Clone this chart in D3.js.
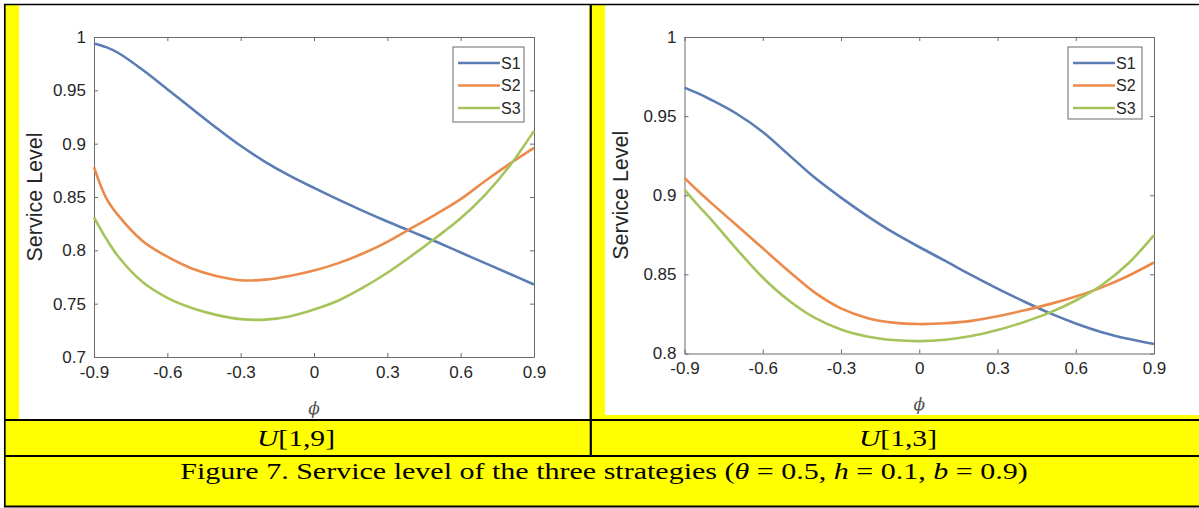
<!DOCTYPE html>
<html>
<head>
<meta charset="utf-8">
<script src="https://cdn.jsdelivr.net/npm/d3@7"></script>
<style>
  html, body { margin: 0; padding: 0; background: #fff; }
  svg { display: block; }
</style>
</head>
<body>
<div id="chart"></div>
<script>
// phi values sampled along the x axis (extra point near -0.9 where the curves bend hard)
const phi = [-0.9, -0.85, -0.8, -0.7, -0.6, -0.5, -0.4, -0.3, -0.2, -0.1, 0, 0.1, 0.2, 0.3, 0.4, 0.5, 0.6, 0.7, 0.8, 0.9];

// U[1,9] panel
const s1U19 = [0.994, 0.9905, 0.985, 0.969, 0.951, 0.933, 0.915, 0.898, 0.883, 0.870, 0.8585, 0.8475, 0.837, 0.827, 0.8175, 0.808, 0.798, 0.788, 0.778, 0.768];
const s2U19 = [0.878, 0.849, 0.8325, 0.8085, 0.794, 0.783, 0.776, 0.772, 0.7725, 0.776, 0.781, 0.788, 0.797, 0.808, 0.821, 0.834, 0.848, 0.865, 0.881, 0.896];
const s3U19 = [0.831, 0.811, 0.794, 0.770, 0.7555, 0.746, 0.7395, 0.7355, 0.735, 0.738, 0.7445, 0.753, 0.765, 0.779, 0.795, 0.812, 0.830, 0.852, 0.879, 0.912];

// U[1,3] panel
const s1U13 = [0.968, 0.9645, 0.9605, 0.9515, 0.940, 0.9255, 0.911, 0.8985, 0.887, 0.8765, 0.8673, 0.8585, 0.8495, 0.841, 0.833, 0.8255, 0.819, 0.8135, 0.8093, 0.806];
const s2U13 = [0.911, 0.903, 0.8955, 0.881, 0.8665, 0.852, 0.8385, 0.8285, 0.8225, 0.8195, 0.8186, 0.8191, 0.8206, 0.8235, 0.8272, 0.8312, 0.836, 0.8418, 0.849, 0.8575];
const s3U13 = [0.9036, 0.894, 0.885, 0.866, 0.848, 0.8335, 0.8225, 0.8152, 0.8108, 0.8085, 0.8078, 0.8087, 0.811, 0.8148, 0.8198, 0.8258, 0.8335, 0.8433, 0.8567, 0.8748];

const seriesNames = ["S1", "S2", "S3"];
const seriesColors = ["#5b7db3", "#eb8a4a", "#a6c45c"];

const xTicks = [-0.9, -0.6, -0.3, 0, 0.3, 0.6, 0.9];
const yTicksU19 = [0.7, 0.75, 0.8, 0.85, 0.9, 0.95, 1];
const yTicksU13 = [0.8, 0.85, 0.9, 0.95, 1];

const panelLabels = ["U[1,9]", "U[1,3]"];

const W = 1199, H = 508;
const YELLOW = "#ffff00";

const svg = d3.select("#chart").append("svg")
    .attr("width", W)
    .attr("height", H);

svg.append("rect").attr("width", W).attr("height", H).attr("fill", "#fff");

// --- table background (yellow cells with white picture areas) ---
svg.append("rect").attr("x", 5).attr("y", 5).attr("width", 586).attr("height", 415).attr("fill", YELLOW);
svg.append("rect").attr("x", 19).attr("y", 5).attr("width", 570).attr("height", 414).attr("fill", "#fff");
svg.append("rect").attr("x", 592).attr("y", 5).attr("width", W - 592).attr("height", 415).attr("fill", YELLOW);
svg.append("rect").attr("x", 605).attr("y", 5).attr("width", W - 605).attr("height", 410).attr("fill", "#fff");
svg.append("rect").attr("x", 5).attr("y", 421).attr("width", W - 5).attr("height", 85).attr("fill", YELLOW);

// --- table borders ---
const border = svg.append("g").attr("stroke", "#000").attr("fill", "none");
border.append("line").attr("x1", 4).attr("x2", W).attr("y1", 4.5).attr("y2", 4.5).attr("stroke-width", 1.5);
border.append("line").attr("x1", 4.8).attr("x2", 4.8).attr("y1", 4).attr("y2", 507).attr("stroke-width", 1.7);
border.append("line").attr("x1", 590.8).attr("x2", 590.8).attr("y1", 4).attr("y2", 456).attr("stroke-width", 2.2);
border.append("line").attr("x1", 4).attr("x2", W).attr("y1", 420).attr("y2", 420).attr("stroke-width", 2.2);
border.append("line").attr("x1", 4).attr("x2", W).attr("y1", 456).attr("y2", 456).attr("stroke-width", 2);
border.append("line").attr("x1", 4).attr("x2", W).attr("y1", 506.5).attr("y2", 506.5).attr("stroke-width", 2);

// --- one MATLAB-style panel ---
function drawPanel(p) {
    const g = svg.append("g");
    const x = d3.scaleLinear().domain([-0.9, 0.9]).range([p.left, p.right]);
    const y = d3.scaleLinear().domain(p.yDomain).range([p.bottom, p.top]);
    const axisColor = "#6b6b6b";
    const textColor = "#262626";
    const fmt = d => String(d);

    const styleAxis = sel => {
        sel.select(".domain").attr("stroke", axisColor).attr("stroke-width", 1);
        sel.selectAll(".tick line").attr("stroke", axisColor).attr("stroke-width", 1);
        sel.selectAll(".tick text")
            .attr("fill", textColor)
            .style("font-family", "'Liberation Sans', Arial, sans-serif")
            .style("font-size", "17px");
    };

    g.append("g")
        .attr("transform", `translate(0,${p.bottom})`)
        .call(d3.axisBottom(x).tickValues(xTicks).tickFormat(fmt).tickSizeInner(-4).tickSizeOuter(0).tickPadding(p.xPad))
        .call(styleAxis);
    g.append("g")
        .attr("transform", `translate(0,${p.top})`)
        .call(d3.axisTop(x).tickValues(xTicks).tickFormat("").tickSizeInner(-4).tickSizeOuter(0))
        .call(styleAxis);
    g.append("g")
        .attr("transform", `translate(${p.left},0)`)
        .call(d3.axisLeft(y).tickValues(p.yTicks).tickFormat(fmt).tickSizeInner(-4).tickSizeOuter(0).tickPadding(8))
        .call(styleAxis);
    g.append("g")
        .attr("transform", `translate(${p.right},0)`)
        .call(d3.axisRight(y).tickValues(p.yTicks).tickFormat("").tickSizeInner(-4).tickSizeOuter(0))
        .call(styleAxis);

    const line = d3.line()
        .x((d, i) => x(phi[i]))
        .y(d => y(d))
        .curve(d3.curveCatmullRom.alpha(0.5));

    g.append("g").selectAll("path")
        .data(p.series)
        .join("path")
        .attr("d", d => line(d))
        .attr("fill", "none")
        .attr("stroke", (d, i) => seriesColors[i])
        .attr("stroke-width", 2.6)
        .attr("stroke-linejoin", "round");

    // axis labels
    g.append("text")
        .attr("transform", `translate(${p.yLabelX},${(p.top + p.bottom) / 2}) rotate(-90)`)
        .attr("text-anchor", "middle")
        .attr("dominant-baseline", "central")
        .attr("fill", textColor)
        .style("font-family", "'Liberation Sans', Arial, sans-serif")
        .style("font-size", "21.5px")
        .text("Service Level");

    g.append("text")
        .attr("x", (p.left + p.right) / 2)
        .attr("y", p.phiY)
        .attr("text-anchor", "middle")
        .attr("fill", "#555")
        .style("font-family", "'DejaVu Serif', serif")
        .style("font-style", "italic")
        .style("font-size", "17px")
        .text("\u03D5");

    // legend
    const lg = g.append("g");
    lg.append("rect")
        .attr("x", p.legend.x).attr("y", p.legend.y)
        .attr("width", p.legend.w).attr("height", p.legend.h)
        .attr("fill", "#fff").attr("stroke", axisColor).attr("stroke-width", 1);
    seriesNames.forEach((name, i) => {
        const ry = p.legend.y + 16 + i * 22.5;
        lg.append("line")
            .attr("x1", p.legend.x + 5).attr("x2", p.legend.x + 47)
            .attr("y1", ry).attr("y2", ry)
            .attr("stroke", seriesColors[i]).attr("stroke-width", 2.6);
        lg.append("text")
            .attr("x", p.legend.x + 48).attr("y", ry)
            .attr("dominant-baseline", "central")
            .attr("fill", textColor)
            .style("font-family", "'Liberation Sans', Arial, sans-serif")
            .style("font-size", "16px")
            .text(name);
    });
}

drawPanel({
    left: 94, right: 534, top: 37, bottom: 357,
    yDomain: [0.7, 1], yTicks: yTicksU19,
    series: [s1U19, s2U19, s3U19],
    xPad: 9, yLabelX: 35, phiY: 414,
    legend: { x: 453, y: 47, w: 71, h: 75 }
});

drawPanel({
    left: 684.5, right: 1154, top: 37, bottom: 353.5,
    yDomain: [0.8, 1], yTicks: yTicksU13,
    series: [s1U13, s2U13, s3U13],
    xPad: 8, yLabelX: 621, phiY: 410,
    legend: { x: 1068, y: 47, w: 74, h: 72 }
});

// --- caption rows, stretched horizontally to the width they take in the document ---
function fitText(sel, cx, cy, targetWidth) {
    const w = sel.node().getBBox().width;
    sel.attr("transform", `translate(${cx},${cy}) scale(${targetWidth / w},1)`);
}

const serif = "'Liberation Serif', 'Times New Roman', serif";

panelLabels.forEach((lab, i) => {
    const t = svg.append("text")
        .attr("text-anchor", "middle")
        .attr("fill", "#000")
        .style("font-family", serif)
        .style("font-size", "24px");
    t.append("tspan").style("font-style", "italic").text(lab[0]);
    t.append("tspan").text(lab.slice(1));
    fitText(t, i === 0 ? 296 : 898, 446, 78);
});

const cap = svg.append("text")
    .attr("text-anchor", "middle")
    .attr("fill", "#000")
    .style("font-family", serif)
    .style("font-size", "23px")
    .style("white-space", "pre");
const capParts = [
    ["Figure 7. Service level of the three strategies (", false],
    ["\u03B8", true], [" = 0.5, ", false],
    ["h", true], [" = 0.1, ", false],
    ["b", true], [" = 0.9)", false]
];
capParts.forEach(([s, it]) => {
    cap.append("tspan").style("font-style", it ? "italic" : "normal").text(s);
});
fitText(cap, 604, 479, 848);
</script>
</body>
</html>
